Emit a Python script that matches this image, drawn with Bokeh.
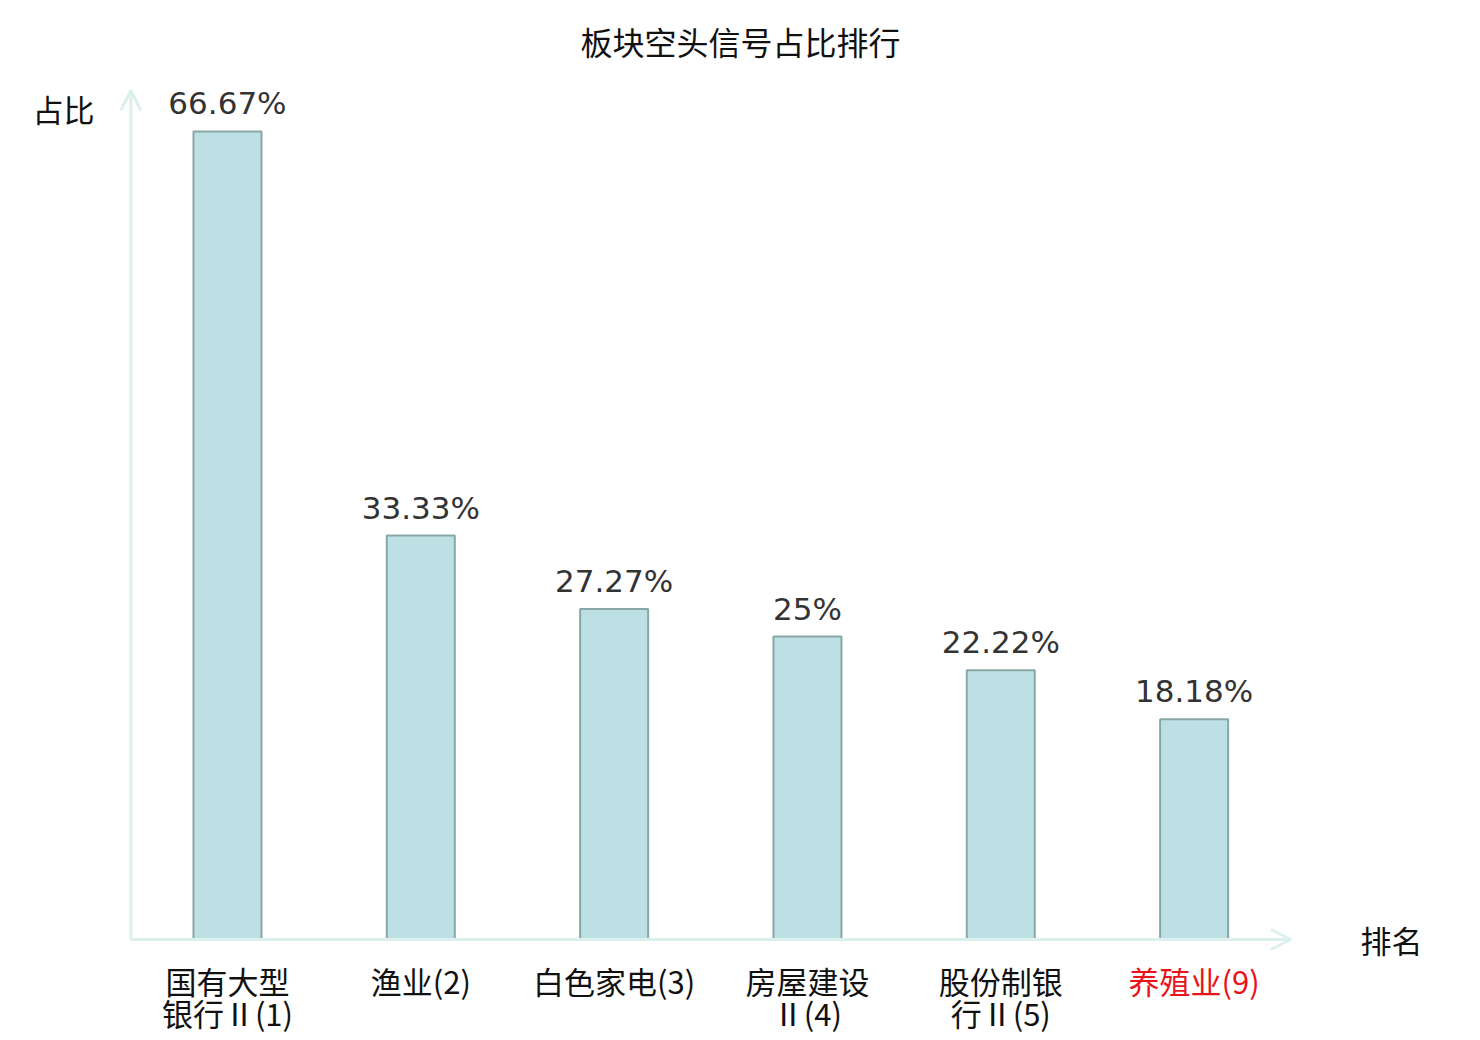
from bokeh.plotting import figure
from bokeh.models import Range1d, ColumnDataSource, Arrow, OpenHead, Label
from bokeh.core.properties import value
from bokeh.embed import file_html
from bokeh.resources import INLINE

# ---- data ----
categories = ["国有大型\n银行Ⅱ(1)", "渔业(2)", "白色家电(3)", "房屋建设\nⅡ(4)", "股份制银\n行Ⅱ(5)", "养殖业(9)"]
values = [66.67, 33.33, 27.27, 25.0, 22.22, 18.18]
value_labels = ["66.67%", "33.33%", "27.27%", "25%", "22.22%", "18.18%"]
label_colors = ["#111111", "#111111", "#111111", "#111111", "#111111", "#e8141b"]
title_text = "板块空头信号占比排行"
y_name = "占比"
x_name = "排名"

W, H = 1480, 1040
px_x = 193.33   # pixels per category slot
px_y = 12.12    # pixels per percent
x0_px = 130.3   # frame x of axis origin
y0_px = 939.0   # frame y (from top) of axis origin

p = figure(width=W, height=H, output_backend="svg", toolbar_location=None,
           x_range=Range1d(-x0_px / px_x, (W - x0_px) / px_x),
           y_range=Range1d(-(H - y0_px) / px_y, y0_px / px_y),
           min_border=0, min_border_left=0, min_border_right=0,
           min_border_top=0, min_border_bottom=0)
p.axis.visible = False
p.xgrid.visible = False
p.ygrid.visible = False
p.outline_line_color = None
p.background_fill_color = "white"
p.border_fill_color = "white"

xs = [i + 0.5 for i in range(len(values))]
src = ColumnDataSource(dict(x=xs, top=values, vlab=value_labels, cat=categories, col=label_colors))

axis_col = "#dcf1ee"
# axes with arrows
p.add_layout(Arrow(x_start=0, y_start=0, x_end=len(values), y_end=0,
                   line_color=axis_col, line_width=3,
                   end=OpenHead(size=20, line_color=axis_col, line_width=3)))
p.add_layout(Arrow(x_start=0, y_start=0, x_end=0, y_end=70.05,
                   line_color=axis_col, line_width=3,
                   end=OpenHead(size=20, line_color=axis_col, line_width=3)))

p.vbar(x="x", top="top", bottom=0, width=68 / px_x, source=src,
       fill_color="#bce0e3", line_color="#8aa7a8", line_width=2)

p.text(x="x", y="top", text="vlab", source=src, y_offset=-10,
       text_align="center", text_baseline="bottom",
       text_font=value("DejaVu Sans"), text_font_size="31px", text_color="#333333")

p.text(x="x", y=0, text="cat", source=src, y_offset=18,
       text_align="center", text_baseline="top", text_line_height=0.72,
       text_font=value("Noto Sans CJK SC"), text_font_size="31px", text_color="col")

p.add_layout(Label(x=740, y=H - 40, x_units="screen", y_units="screen", text=title_text,
                   text_align="center", text_baseline="middle",
                   text_font="Noto Sans CJK SC", text_font_size="32px", text_color="#111111"))
p.add_layout(Label(x=63, y=H - 108, x_units="screen", y_units="screen", text=y_name,
                   text_align="center", text_baseline="middle",
                   text_font="Noto Sans CJK SC", text_font_size="31px", text_color="#111111"))
p.add_layout(Label(x=1391, y=H - 939, x_units="screen", y_units="screen", text=x_name,
                   text_align="center", text_baseline="middle",
                   text_font="Noto Sans CJK SC", text_font_size="31px", text_color="#111111"))

open("out.html", "w").write(file_html(p, INLINE))
